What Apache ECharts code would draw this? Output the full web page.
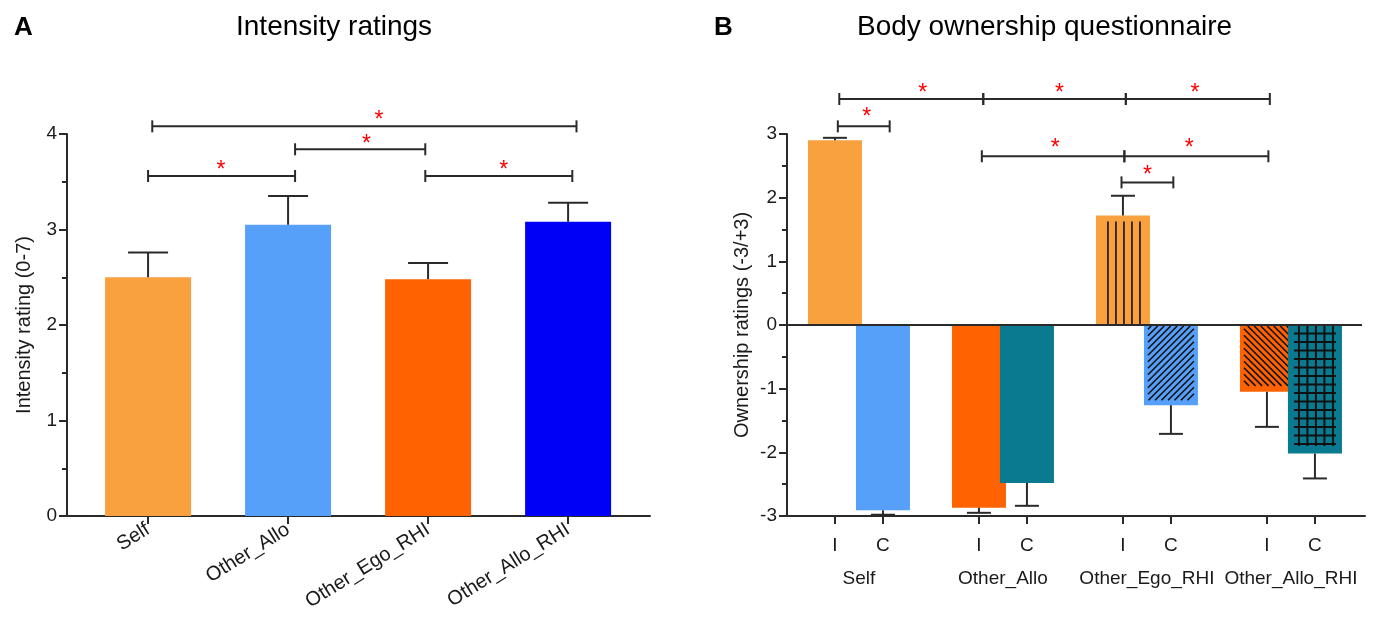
<!DOCTYPE html>
<html>
<head>
<meta charset="utf-8">
<script src="https://cdn.jsdelivr.net/npm/echarts@6/dist/echarts.min.js"></script>
<style>
html, body { margin: 0; padding: 0; background: #fff; }
#chart { width: 1381px; height: 624px; }
</style>
</head>
<body>
<div id="chart"></div>
<script>
// ---- panel A : intensity ratings ----
var conditions = ['Self', 'Other_Allo', 'Other_Ego_RHI', 'Other_Allo_RHI'];
var intensity = [2.50, 3.05, 2.48, 3.08];
var intensityErr = [0.26, 0.30, 0.17, 0.20];
var intensityTicks = [0, 1, 2, 3, 4];
// significance brackets: [from, to, level, starX, starY]
var intensitySig = [
    [0.00, 1.05, 3.56, 0.52, 3.67],
    [1.05, 1.98, 3.84, 1.56, 3.94],
    [1.98, 3.03, 3.56, 2.54, 3.67],
    [0.03, 3.06, 4.08, 1.65, 4.19]
];

// ---- panel B : body ownership questionnaire ----
var groups = ['Self', 'Other_Allo', 'Other_Ego_RHI', 'Other_Allo_RHI'];
var ownI = [2.90, -2.87, 1.72, -1.05];
var ownIErr = [0.04, 0.08, 0.31, 0.55];
var ownC = [-2.91, -2.48, -1.26, -2.02];
var ownCErr = [0.07, 0.36, 0.45, 0.39];
var ownTicks = [-3, -2, -1, 0, 1, 2, 3];
var ownSig = [
    [0.03, 1.03, 3.55, 0.61, 3.72],
    [1.03, 2.02, 3.55, 1.56, 3.72],
    [2.02, 3.02, 3.55, 2.50, 3.72],
    [0.02, 0.38, 3.12, 0.22, 3.33],
    [1.02, 2.01, 2.65, 1.53, 2.85],
    [2.01, 3.01, 2.65, 2.46, 2.85],
    [1.99, 2.35, 2.24, 2.17, 2.43]
];

var colorsA = ['#F9A03F', '#56A0FA', '#FF6200', '#0000F6'];
var colorsI = ['#F9A03F', '#FF6200', '#F9A03F', '#FF6200'];
var colorsC = ['#56A0FA', '#0A7A90', '#56A0FA', '#0A7A90'];
var patternI = ['none', 'none', 'vert', 'back'];
var patternC = ['none', 'none', 'fwd', 'grid'];
var cOffset = 1 / 3;

var axisColor = '#2a2a2a';
var textColor = '#1a1a1a';
var fontFamily = 'Liberation Sans, Arial, sans-serif';

// build panel B bar list (I then C inside each group)
var ownBars = [], ownBarColor = [], ownBarPattern = [], ownErrData = [];
for (var g = 0; g < groups.length; ++g) {
    ownBars.push([g, ownI[g]]);
    ownBarColor.push(colorsI[g]);
    ownBarPattern.push(patternI[g]);
    ownBars.push([g + cOffset, ownC[g]]);
    ownBarColor.push(colorsC[g]);
    ownBarPattern.push(patternC[g]);
    ownErrData.push([g, ownI[g], ownIErr[g]]);
    ownErrData.push([g + cOffset, ownC[g], ownCErr[g]]);
}
var icValues = [], groupCenters = [];
for (var g = 0; g < groups.length; ++g) {
    icValues.push(g, g + cOffset);
    groupCenters.push(g + cOffset / 2);
}

var lineStyle = { stroke: axisColor, lineWidth: 2 };
var hatchStyle = { stroke: '#111', lineWidth: 1.6 };
var gridStyle = { stroke: '#111', lineWidth: 2 };

function errRenderer(cap) {
    return function (params, api) {
        var x = api.value(0), v = api.value(1), e = api.value(2);
        var end = v + (v < 0 ? -e : e);
        var p = api.coord([x, v]), q = api.coord([x, end]);
        return {
            type: 'group',
            children: [
                { type: 'line', shape: { x1: p[0], y1: p[1], x2: q[0], y2: q[1] }, style: lineStyle },
                { type: 'line', shape: { x1: q[0] - cap / 2, y1: q[1], x2: q[0] + cap / 2, y2: q[1] }, style: lineStyle }
            ]
        };
    };
}

function renderBracket(params, api) {
    var a = api.coord([api.value(0), api.value(2)]);
    var b = api.coord([api.value(1), api.value(2)]);
    var s = api.coord([api.value(3), api.value(4)]);
    return {
        type: 'group',
        children: [
            { type: 'line', shape: { x1: a[0], y1: a[1], x2: b[0], y2: b[1] }, style: lineStyle },
            { type: 'line', shape: { x1: a[0], y1: a[1] - 6, x2: a[0], y2: a[1] + 6 }, style: lineStyle },
            { type: 'line', shape: { x1: b[0], y1: b[1] - 6, x2: b[0], y2: b[1] + 6 }, style: lineStyle },
            {
                type: 'text', x: s[0], y: s[1] + 5,
                style: { text: '*', fill: '#FF0000', fontSize: 23, fontFamily: fontFamily, align: 'center', verticalAlign: 'middle' }
            }
        ]
    };
}

function hatch(children, xa, xb, ya, yb, dir, step) {
    // dir > 0 : "\"  (y = x + c),  dir < 0 : "/"  (y = -x + c)
    var cStart = dir > 0 ? ya - xb : xa + ya;
    var cEnd = dir > 0 ? yb - xa : xb + yb;
    for (var c = cStart + step / 2; c < cEnd; c += step) {
        var lo, hi;
        if (dir > 0) { lo = Math.max(xa, ya - c); hi = Math.min(xb, yb - c); }
        else { lo = Math.max(xa, c - yb); hi = Math.min(xb, c - ya); }
        if (hi - lo < 1) continue;
        children.push({
            type: 'line',
            shape: { x1: lo, y1: dir > 0 ? lo + c : c - lo, x2: hi, y2: dir > 0 ? hi + c : c - hi },
            style: hatchStyle
        });
    }
}

function renderOwnBar(params, api) {
    var i = params.dataIndex;
    var x = api.value(0), v = api.value(1);
    var p0 = api.coord([x, 0]), p1 = api.coord([x, v]);
    var bw = 54, cx = p0[0];
    var left = cx - bw / 2, right = cx + bw / 2;
    var top = Math.min(p0[1], p1[1]), bottom = Math.max(p0[1], p1[1]);
    var children = [{
        type: 'rect',
        shape: { x: left, y: top, width: bw, height: bottom - top },
        style: { fill: ownBarColor[i] }
    }];
    var pat = ownBarPattern[i];
    if (pat === 'vert') {
        [-16, -8, 0, 8, 16].forEach(function (o) {
            children.push({ type: 'line', shape: { x1: cx + o + 1, y1: top + 6, x2: cx + o + 1, y2: bottom }, style: hatchStyle });
        });
    } else if (pat === 'fwd') {
        hatch(children, left + 4, right - 4, top + 1, bottom - 5, -1, 6.5);
    } else if (pat === 'back') {
        hatch(children, left + 4, right - 4, top + 1, bottom - 6, 1, 6.5);
    } else if (pat === 'grid') {
        var last = top;
        for (var y = top + 8.5; y < bottom - 6; y += 8.5) {
            children.push({ type: 'line', shape: { x1: cx - 21, y1: y, x2: cx + 21, y2: y }, style: gridStyle });
            last = y;
        }
        [-16, -7.5, 1, 9.5, 18].forEach(function (o) {
            children.push({ type: 'line', shape: { x1: cx + o, y1: top, x2: cx + o, y2: last + 2 }, style: gridStyle });
        });
    }
    return { type: 'group', children: children };
}

var yAxisCommon = {
    type: 'value',
    interval: 1,
    axisLine: { show: true, onZero: false, lineStyle: { color: axisColor, width: 2 } },
    axisTick: { show: true, length: 8, lineStyle: { color: axisColor, width: 2 } },
    minorTick: { show: true, splitNumber: 2, length: 5, lineStyle: { color: axisColor, width: 2 } },
    splitLine: { show: false },
    minorSplitLine: { show: false },
    axisLabel: { color: textColor, fontSize: 19, fontFamily: fontFamily, margin: 10 },
    nameLocation: 'middle',
    nameTextStyle: { color: textColor, fontSize: 20, fontFamily: fontFamily }
};

var dom = document.getElementById('chart');
var myChart = echarts.init(dom);
var option = {
    backgroundColor: '#fff',
    animation: false,
    title: [
        { text: 'A', left: 9, top: 10, textStyle: { fontSize: 26, fontWeight: 'bold', color: '#000', fontFamily: fontFamily } },
        { text: 'Intensity ratings', left: 231, top: 8, textStyle: { fontSize: 28, fontWeight: 'normal', color: '#000', fontFamily: fontFamily } },
        { text: 'B', left: 709, top: 10, textStyle: { fontSize: 26, fontWeight: 'bold', color: '#000', fontFamily: fontFamily } },
        { text: 'Body ownership questionnaire', left: 852, top: 8, textStyle: { fontSize: 28, fontWeight: 'normal', color: '#000', fontFamily: fontFamily } }
    ],
    grid: [
        { left: 67, top: 134, width: 583, height: 382 },
        { left: 787, top: 134, width: 578, height: 382 }
    ],
    xAxis: [
        {
            gridIndex: 0, type: 'value', min: -0.579, max: 3.585,
            axisLine: { show: true, onZero: false, lineStyle: { color: axisColor, width: 2 } },
            axisTick: { show: true, customValues: [0, 1, 2, 3], length: 8, lineStyle: { color: axisColor, width: 2 } },
            splitLine: { show: false },
            axisLabel: {
                customValues: [0, 1, 2, 3], rotate: 32, margin: 12,
                color: textColor, fontSize: 20, fontFamily: fontFamily,
                formatter: function (v) { return conditions[Math.round(v)]; }
            }
        },
        {
            gridIndex: 1, type: 'value', min: -0.333, max: 3.681,
            axisLine: { show: true, onZero: false, lineStyle: { color: axisColor, width: 2 } },
            axisTick: { show: true, customValues: icValues, length: 8, lineStyle: { color: axisColor, width: 2 } },
            splitLine: { show: false },
            axisLabel: {
                customValues: icValues, margin: 20,
                color: textColor, fontSize: 19, fontFamily: fontFamily,
                formatter: function (v) { return Math.abs(v - Math.round(v)) < 0.01 ? 'I' : 'C'; }
            }
        },
        {
            gridIndex: 1, type: 'value', min: -0.333, max: 3.681, position: 'bottom', offset: 33,
            axisLine: { show: false },
            axisTick: { show: false },
            splitLine: { show: false },
            axisLabel: {
                customValues: groupCenters, margin: 20,
                color: textColor, fontSize: 19, fontFamily: fontFamily,
                formatter: function (v) { return groups[Math.round(v - cOffset / 2)]; }
            }
        }
    ],
    yAxis: [
        Object.assign({}, yAxisCommon, {
            gridIndex: 0, min: intensityTicks[0], max: intensityTicks[intensityTicks.length - 1],
            name: 'Intensity rating (0-7)', nameGap: 33
        }),
        Object.assign({}, yAxisCommon, {
            gridIndex: 1, min: ownTicks[0], max: ownTicks[ownTicks.length - 1],
            name: 'Ownership ratings (-3/+3)', nameGap: 35
        })
    ],
    series: [
        {
            type: 'bar', xAxisIndex: 0, yAxisIndex: 0, barWidth: 86, z: 2,
            data: intensity.map(function (v, i) {
                return { value: [i, v], itemStyle: { color: colorsA[i] } };
            })
        },
        {
            type: 'custom', xAxisIndex: 0, yAxisIndex: 0, z: 3, clip: false,
            renderItem: errRenderer(40),
            data: intensity.map(function (v, i) { return [i, v, intensityErr[i]]; })
        },
        {
            type: 'custom', xAxisIndex: 0, yAxisIndex: 0, z: 5, clip: false,
            encode: { x: [0, 1, 3], y: [2, 4] },
            renderItem: renderBracket,
            data: intensitySig
        },
        {
            type: 'custom', xAxisIndex: 1, yAxisIndex: 1, z: 2, clip: false,
            renderItem: renderOwnBar,
            data: ownBars
        },
        {
            type: 'custom', xAxisIndex: 1, yAxisIndex: 1, z: 3, clip: false,
            renderItem: errRenderer(24),
            data: ownErrData
        },
        {
            type: 'line', xAxisIndex: 1, yAxisIndex: 1, z: 4, silent: true,
            symbol: 'none', lineStyle: { color: axisColor, width: 2 },
            data: [[-0.333, 0], [3.66, 0]]
        },
        {
            type: 'custom', xAxisIndex: 1, yAxisIndex: 1, z: 5, clip: false,
            encode: { x: [0, 1, 3], y: [2, 4] },
            renderItem: renderBracket,
            data: ownSig
        }
    ]
};
myChart.setOption(option);
</script>
</body>
</html>
